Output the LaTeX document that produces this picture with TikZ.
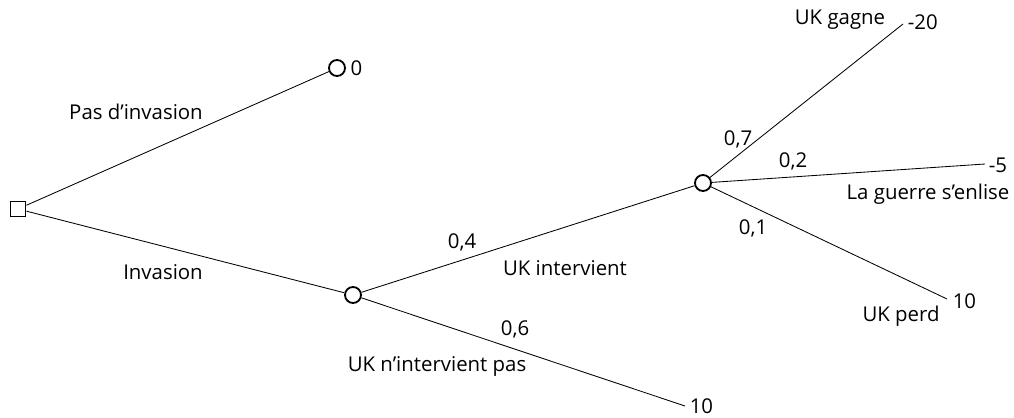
\documentclass[tikz,border=0pt]{standalone}
\usepackage{fontspec}
\setmainfont{Open Sans}
\usepackage{tikz}
\usetikzlibrary{positioning}

\begin{document}
\begin{tikzpicture}[x=0.025cm, y=-0.025cm, font=\fontsize{14.5}{16}\selectfont,
  line width=0.6pt,
  decision/.style={draw, line width=1.3pt, rectangle, minimum size=15*0.025cm, inner sep=0pt},
  chance/.style={draw, line width=1.3pt, circle, minimum size=16*0.025cm, inner sep=0pt},
  lbl/.style={inner sep=1pt}]
\useasboundingbox (0,0) rectangle (1014,418);
\node[decision] (dec) at (18,209) {};
\node[chance] (c0) at (337,68) {};
\node[chance] (ch1) at (353,295) {};
\node[chance] (ch2) at (703,183) {};
\coordinate (e10b) at (685,406);
\coordinate (egagne) at (903,24);
\coordinate (eenlise) at (985,164);
\coordinate (eperd) at (947,299);
\draw (dec)--(c0); \draw (dec)--(ch1);
\draw (ch1)--(ch2); \draw (ch1)--(e10b);
\draw (ch2)--(egagne); \draw (ch2)--(eenlise); \draw (ch2)--(eperd);
% labels
\node[lbl] (pasinv) at (136,112) {Pas d’invasion};
\node[lbl] (inv) at (163,272) {Invasion};
\node[lbl, right=2pt of c0] (v0) {0};
\node[lbl] (p4) at (462,242) {0,4};
\node[lbl] (ukint) at (565,268) {UK intervient};
\node[lbl] (p6) at (515,329) {0,6};
\node[lbl] (uknint) at (437,366) {UK n’intervient pas};
\node[lbl, anchor=west] (v10b) at (688,406) {10};
\node[lbl] (ukgagne) at (840,20) {UK gagne};
\node[lbl, anchor=west] (vgagne) at (906,22) {-20};
\node[lbl] (p7) at (738,139) {0,7};
\node[lbl] (p2) at (793,161) {0,2};
\node[lbl, anchor=west] (venlise) at (987,165) {-5};
\node[lbl] (enlise) at (928,194) {La guerre s’enlise};
\node[lbl] (p1) at (753,228) {0,1};
\node[lbl, anchor=west] (vperd) at (951,301) {10};
\node[lbl] (ukperd) at (901,316) {UK perd};
\end{tikzpicture}
\end{document}
